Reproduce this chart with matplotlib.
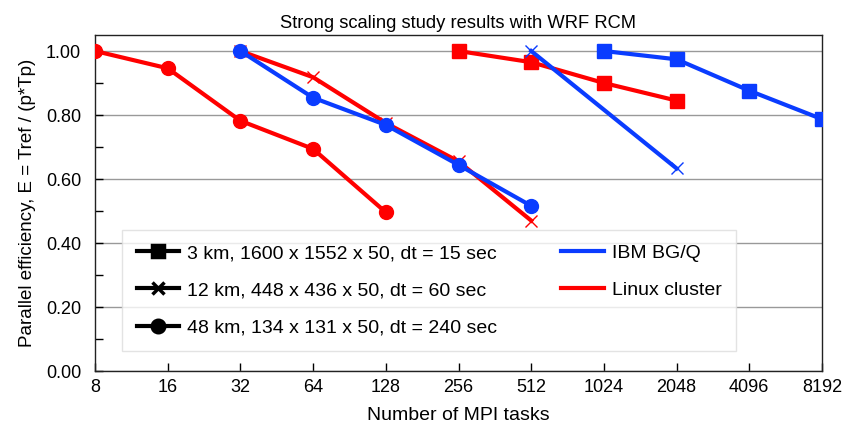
import matplotlib
matplotlib.use('Agg')
import matplotlib.pyplot as plt
from matplotlib.lines import Line2D

# MPI task counts and parallel efficiency
tasks_ibm_3km = [1024, 2048, 4096, 8192]
eff_ibm_3km = [1.00, 0.974, 0.876, 0.787]
tasks_lin_3km = [256, 512, 1024, 2048]
eff_lin_3km = [1.00, 0.965, 0.900, 0.845]

tasks_ibm_12km = [512, 2048]
eff_ibm_12km = [1.00, 0.633]
tasks_lin_12km = [32, 64, 128, 256, 512]
eff_lin_12km = [1.00, 0.918, 0.775, 0.655, 0.470]

tasks_ibm_48km = [32, 64, 128, 256, 512]
eff_ibm_48km = [1.00, 0.854, 0.769, 0.644, 0.516]
tasks_lin_48km = [8, 16, 32, 64, 128]
eff_lin_48km = [1.00, 0.946, 0.782, 0.694, 0.496]

xticks = [8, 16, 32, 64, 128, 256, 512, 1024, 2048, 4096, 8192]
yticks = [0.0, 0.2, 0.4, 0.6, 0.8, 1.0]

res_labels = ['3 km, 1600 x 1552 x 50, dt = 15 sec',
              '12 km, 448 x 436 x 50, dt = 60 sec',
              '48 km, 134 x 131 x 50, dt = 240 sec']
machine_labels = ['IBM BG/Q', 'Linux cluster']

blue = '#0a3cff'
red = '#ff0000'

plt.rcParams['font.family'] = ['Liberation Sans', 'DejaVu Sans']

fig = plt.figure(figsize=(8.42, 4.23), dpi=100)
ax = fig.add_axes([95 / 842, 1 - 371 / 423, 727 / 842, 336 / 423])

lw = 3.0
ax.plot(tasks_lin_48km, eff_lin_48km, color=red, lw=lw, marker='o', ms=10, zorder=3)
ax.plot(tasks_lin_12km, eff_lin_12km, color=red, lw=lw, marker='x', ms=9, mew=1, zorder=3)
ax.plot(tasks_lin_3km, eff_lin_3km, color=red, lw=lw, marker='s', ms=10, zorder=3)
ax.plot(tasks_ibm_48km, eff_ibm_48km, color=blue, lw=lw, marker='o', ms=10, zorder=4)
ax.plot(tasks_ibm_12km, eff_ibm_12km, color=blue, lw=lw, marker='x', ms=9, mew=1, zorder=4)
ax.plot(tasks_ibm_3km, eff_ibm_3km, color=blue, lw=lw, marker='s', ms=10, zorder=4)

ax.set_xscale('log', base=2)
ax.set_xlim(8, 8192)
ax.set_ylim(0, 1.05)
ax.set_xticks(xticks)
ax.set_xticklabels([str(t) for t in xticks], fontsize=13)
ax.xaxis.set_minor_locator(plt.NullLocator())
ax.set_yticks(yticks)
ax.set_yticklabels(['%.2f' % v for v in yticks], fontsize=13)
ax.set_yticks([0.1, 0.3, 0.5, 0.7, 0.9], minor=True)
ax.tick_params(axis='both', which='both', direction='in', length=6, width=1)
ax.tick_params(axis='x', pad=6)
ax.tick_params(axis='y', pad=10)
ax.grid(axis='y', which='major', color='#999999', lw=1)
ax.set_axisbelow(True)
for s in ax.spines.values():
    s.set_color('#222222')
    s.set_linewidth(1)

ax.set_xlabel('Number of MPI tasks', fontsize=14, labelpad=8)
ax.set_ylabel('Parallel efficiency, E = Tref / (p*Tp)', fontsize=13.5, labelpad=7)
ax.set_title('Strong scaling study results with WRF RCM', fontsize=13.2, pad=5)

handles = [Line2D([], [], color='black', lw=lw, marker=m, ms=9, mew=2.5) for m in ['s', 'x', 'o']]
handles += [Line2D([], [], color=blue, lw=lw), Line2D([], [], color=red, lw=lw),
            Line2D([], [], color='none')]
labels = res_labels + machine_labels + ['']
leg = ax.legend(handles, labels, ncol=2, loc='upper left', bbox_to_anchor=(27 / 727, 141 / 336),
                fontsize=14, frameon=True, fancybox=False, edgecolor='#dddddd',
                handlelength=2.2, handletextpad=0.4, columnspacing=3.3, labelspacing=1.0,
                borderpad=0.75, borderaxespad=0)
leg.get_frame().set_linewidth(1)
fig.canvas.draw()
# widen the frame on the right so it reaches past the second column, as in the source
frame = leg.get_frame()
frame.set_width(frame.get_width() + 10)
frame.set_height(frame.get_height() - 4)
frame.set_y(frame.get_y() + 4)

fig.savefig('out.png', dpi=100)
